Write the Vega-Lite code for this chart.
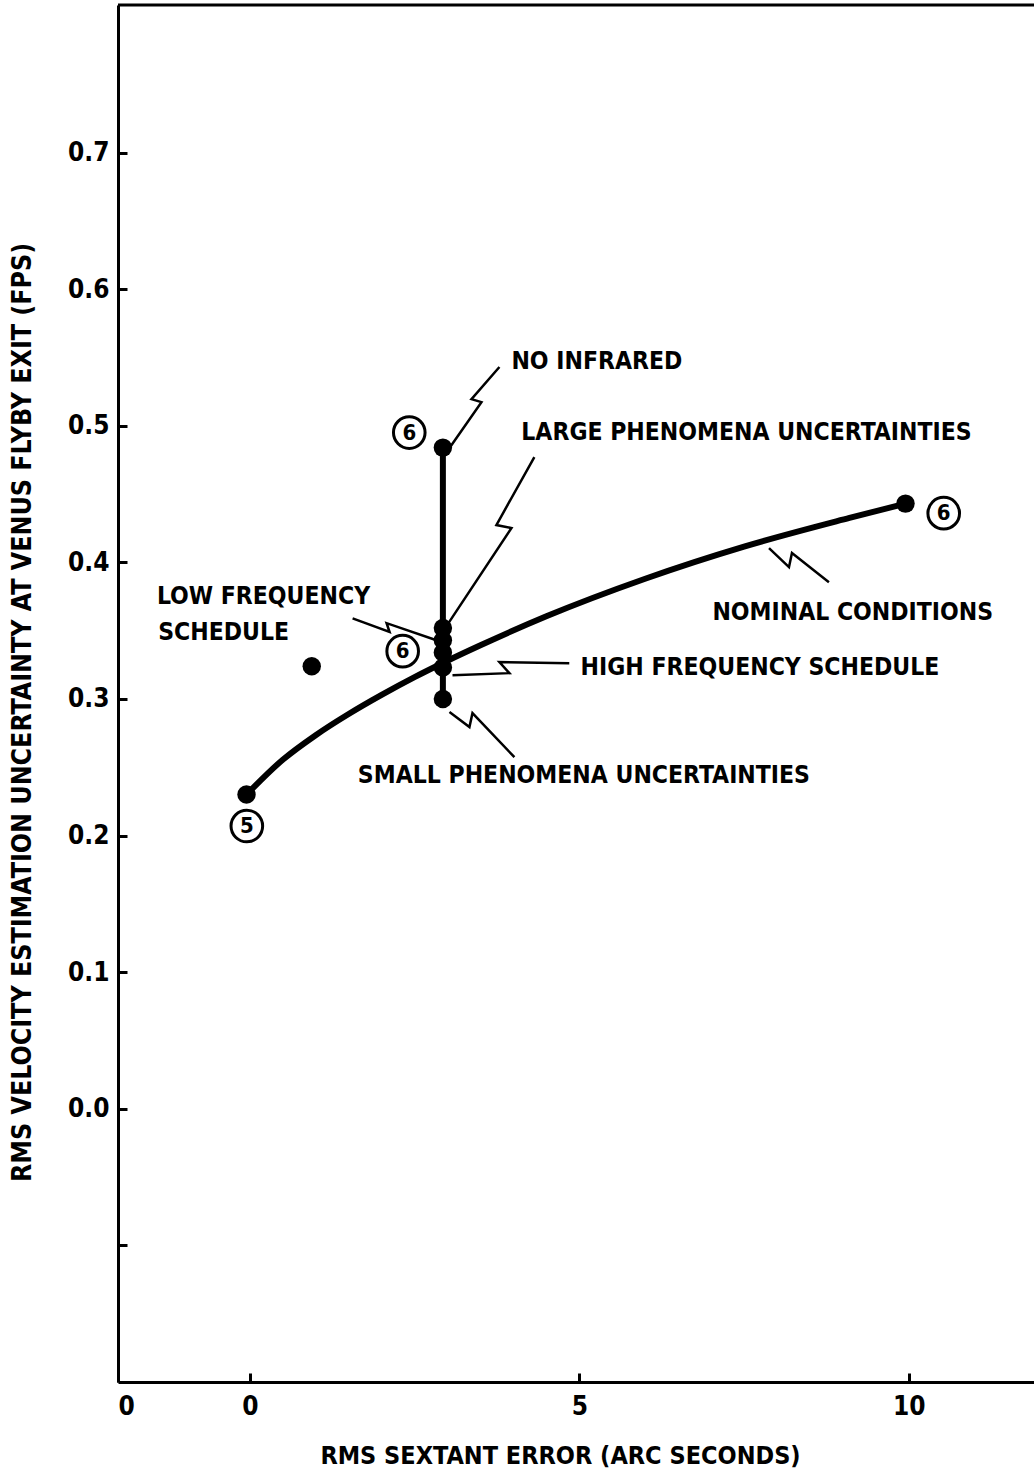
{
  "$schema": "https://vega.github.io/schema/vega-lite/v6.json",
  "width": 916,
  "height": 1377,
  "autosize": {"type": "none"},
  "padding": {"left": 118, "top": 5, "right": 0, "bottom": 93},
  "background": "white",
  "config": {
    "view": {"stroke": null},
    "font": "DejaVu Sans Condensed, Liberation Sans Narrow, sans-serif",
    "axis": {
      "domainColor": "black",
      "domainWidth": 3,
      "tickColor": "black",
      "tickWidth": 3,
      "grid": false,
      "labelColor": "black",
      "labelFont": "DejaVu Sans Condensed, Liberation Sans Narrow, sans-serif",
      "labelFontWeight": "bold",
      "labelFontSize": 26,
      "titleColor": "black",
      "titleFont": "DejaVu Sans Condensed, Liberation Sans Narrow, sans-serif",
      "titleFontWeight": "bold"
    }
  },
  "datasets": {
    "nominal": [
      {"x": -0.05, "y": 0.23},
      {"x": 0.5, "y": 0.2555},
      {"x": 1.0, "y": 0.2735},
      {"x": 1.5, "y": 0.289},
      {"x": 2.0, "y": 0.303},
      {"x": 2.5, "y": 0.316},
      {"x": 3.0, "y": 0.328},
      {"x": 3.5, "y": 0.3393},
      {"x": 4.5, "y": 0.3605},
      {"x": 6.0, "y": 0.388},
      {"x": 7.5, "y": 0.4115},
      {"x": 9.1, "y": 0.4325},
      {"x": 9.95, "y": 0.443}
    ],
    "vertical": [
      {"x": 2.93, "y": 0.300},
      {"x": 2.93, "y": 0.484}
    ],
    "dots": [
      {"x": 2.93, "y": 0.484},
      {"x": 2.93, "y": 0.352},
      {"x": 2.93, "y": 0.343},
      {"x": 2.93, "y": 0.334},
      {"x": 2.93, "y": 0.323},
      {"x": 2.93, "y": 0.300},
      {"x": -0.05, "y": 0.23},
      {"x": 9.95, "y": 0.443},
      {"x": 0.94, "y": 0.324}
    ],
    "circles": [
      {"x": 2.42, "y": 0.495, "n": "6"},
      {"x": 10.53, "y": 0.436, "n": "6"},
      {"x": 2.32, "y": 0.335, "n": "6"},
      {"x": -0.045, "y": 0.207, "n": "5"}
    ],
    "leaders": [
      {"id": "a", "o": 1, "x": 3.03, "y": 0.4837},
      {"id": "a", "o": 2, "x": 3.515, "y": 0.5173},
      {"id": "a", "o": 3, "x": 3.364, "y": 0.5195},
      {"id": "a", "o": 4, "x": 3.788, "y": 0.543},
      {"id": "b", "o": 1, "x": 2.924, "y": 0.3489},
      {"id": "b", "o": 2, "x": 3.97, "y": 0.4251},
      {"id": "b", "o": 3, "x": 3.742, "y": 0.4273},
      {"id": "b", "o": 4, "x": 4.318, "y": 0.4771},
      {"id": "c", "o": 1, "x": 1.56, "y": 0.359},
      {"id": "c", "o": 2, "x": 2.121, "y": 0.349},
      {"id": "c", "o": 3, "x": 2.076, "y": 0.3555},
      {"id": "c", "o": 4, "x": 2.833, "y": 0.343},
      {"id": "d", "o": 1, "x": 3.076, "y": 0.3174},
      {"id": "d", "o": 2, "x": 3.939, "y": 0.3189},
      {"id": "d", "o": 3, "x": 3.788, "y": 0.327},
      {"id": "d", "o": 4, "x": 4.848, "y": 0.3262},
      {"id": "e", "o": 1, "x": 3.03, "y": 0.2904},
      {"id": "e", "o": 2, "x": 3.333, "y": 0.2794},
      {"id": "e", "o": 3, "x": 3.379, "y": 0.2896},
      {"id": "e", "o": 4, "x": 4.015, "y": 0.2574},
      {"id": "f", "o": 1, "x": 7.879, "y": 0.4104},
      {"id": "f", "o": 2, "x": 8.182, "y": 0.3965},
      {"id": "f", "o": 3, "x": 8.227, "y": 0.4068},
      {"id": "f", "o": 4, "x": 8.788, "y": 0.3855}
    ],
    "labels": [
      {"x": 3.97, "y": 0.547, "text": "NO INFRARED"},
      {"x": 4.12, "y": 0.495, "text": "LARGE PHENOMENA UNCERTAINTIES"},
      {"x": -1.41, "y": 0.375, "text": "LOW FREQUENCY"},
      {"x": -1.39, "y": 0.348, "text": "SCHEDULE"},
      {"x": 7.02, "y": 0.363, "text": "NOMINAL CONDITIONS"},
      {"x": 5.02, "y": 0.3225, "text": "HIGH FREQUENCY SCHEDULE"},
      {"x": 1.64, "y": 0.2435, "text": "SMALL PHENOMENA UNCERTAINTIES"}
    ],
    "border": [
      {"x": -2, "x2": 11.9, "y": 0.808}
    ]
  },
  "encoding": {
    "x": {
      "field": "x",
      "type": "quantitative",
      "scale": {"domain": [-2, 11.9], "nice": false, "zero": false},
      "axis": {
        "title": "RMS SEXTANT ERROR (ARC SECONDS)",
        "titleFontSize": 25,
        "values": [-2, 0, 5, 10],
        "labelExpr": "datum.value == -2 ? '0' : format(datum.value, 'd')",
        "labelAlign": {"expr": "datum.value == -2 ? 'left' : 'center'"},
        "tickSize": -9,
        "labelPadding": 20,
        "titleX": 442,
        "titleY": 73,
        "titleBaseline": "middle",
        "titleAlign": "center"
      }
    },
    "y": {
      "field": "y",
      "type": "quantitative",
      "scale": {"domain": [-0.2, 0.808], "nice": false, "zero": false},
      "axis": {
        "title": "RMS VELOCITY ESTIMATION UNCERTAINTY AT VENUS FLYBY EXIT (FPS)",
        "titleFontSize": 26.5,
        "values": [-0.1, 0, 0.1, 0.2, 0.3, 0.4, 0.5, 0.6, 0.7],
        "labelExpr": "datum.value < -0.05 ? '' : format(datum.value, '.1f')",
        "tickSize": -9,
        "labelPadding": 18,
        "titleX": -96,
        "titleY": 707,
        "titleAngle": -90,
        "titleAlign": "center",
        "titleBaseline": "middle"
      }
    }
  },
  "layer": [
    {
      "data": {"name": "border"},
      "mark": {"type": "rule", "color": "black", "strokeWidth": 3},
      "encoding": {"x2": {"field": "x2"}}
    },
    {
      "data": {"name": "nominal"},
      "mark": {"type": "line", "color": "black", "strokeWidth": 6, "interpolate": "monotone"},
      "encoding": {}
    },
    {
      "data": {"name": "vertical"},
      "mark": {"type": "line", "color": "black", "strokeWidth": 6},
      "encoding": {}
    },
    {
      "data": {"name": "leaders"},
      "mark": {"type": "line", "color": "black", "strokeWidth": 2.5, "interpolate": "linear"},
      "encoding": {
        "detail": {"field": "id"},
        "order": {"field": "o", "type": "quantitative"}
      }
    },
    {
      "data": {"name": "dots"},
      "mark": {"type": "point", "shape": "circle", "filled": true, "color": "black", "size": 340, "opacity": 1},
      "encoding": {}
    },
    {
      "data": {"name": "circles"},
      "mark": {"type": "point", "shape": "circle", "filled": false, "color": "black", "size": 1000, "strokeWidth": 3, "opacity": 1},
      "encoding": {}
    },
    {
      "data": {"name": "circles"},
      "mark": {"type": "text", "color": "black", "fontSize": 22, "fontWeight": "bold", "align": "center", "baseline": "middle"},
      "encoding": {"text": {"field": "n"}}
    },
    {
      "data": {"name": "labels"},
      "mark": {"type": "text", "color": "black", "fontSize": 24.5, "fontWeight": "bold", "align": "left", "baseline": "middle"},
      "encoding": {"text": {"field": "text"}}
    }
  ]
}
